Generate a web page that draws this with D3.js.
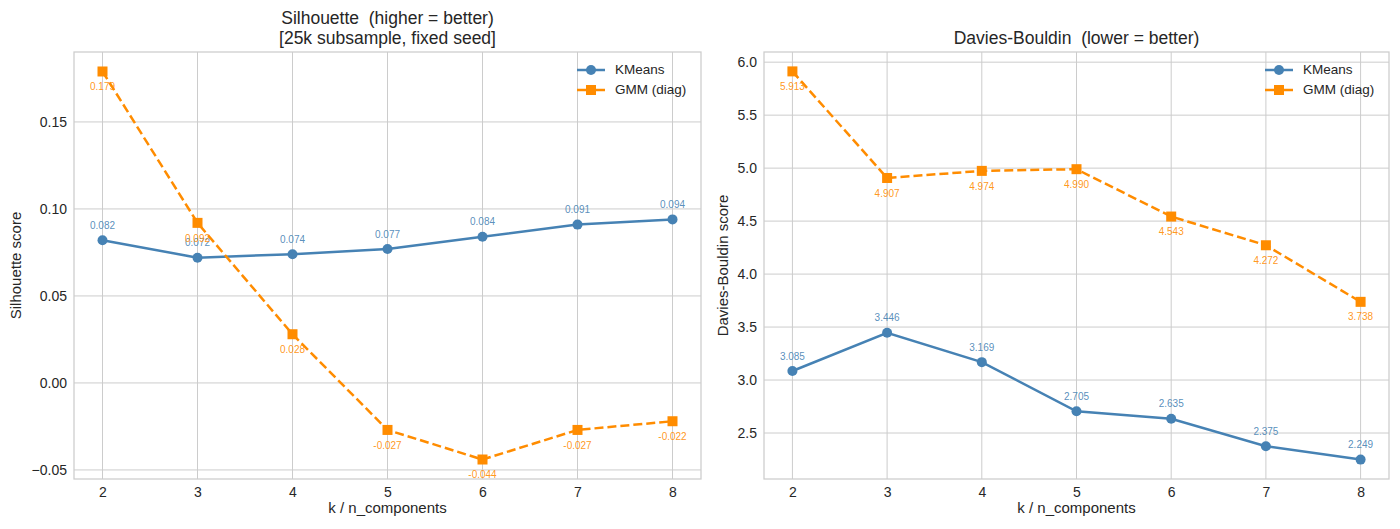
<!DOCTYPE html>
<html>
<head>
<meta charset="utf-8">
<script src="https://cdn.jsdelivr.net/npm/d3@7"></script>
<style>
  html, body { margin: 0; padding: 0; background: #fff; }
  svg { display: block; }
</style>
</head>
<body>
<svg id="chart"></svg>
<script>
/* ── Data ── */
const K_VALUES      = [2, 3, 4, 5, 6, 7, 8];
const SIL_KMEANS    = [0.082, 0.072, 0.074, 0.077, 0.084, 0.091, 0.094];
const SIL_GMM       = [0.179, 0.092, 0.028, -0.027, -0.044, -0.027, -0.022];
const DB_KMEANS     = [3.085, 3.446, 3.169, 2.705, 2.635, 2.375, 2.249];
const DB_GMM        = [5.913, 4.907, 4.974, 4.990, 4.543, 4.272, 3.738];
const SIL_TICKS     = [-0.05, 0.00, 0.05, 0.10, 0.15];
const DB_TICKS      = [2.5, 3.0, 3.5, 4.0, 4.5, 5.0, 5.5, 6.0];
const SERIES_NAMES  = ['KMeans', 'GMM (diag)'];

const BLUE   = '#4682B4';
const ORANGE = '#FF8C00';
const GRID   = '#cccccc';
const TEXT   = '#262626';
const FONT   = '"Liberation Sans", Arial, Helvetica, sans-serif';

const W = 1400, H = 529;
const svg = d3.select('#chart').attr('width', W).attr('height', H)
  .attr('viewBox', `0 0 ${W} ${H}`);
svg.append('rect').attr('width', W).attr('height', H).attr('fill', '#fff');

function drawPanel({ x0, x1, y0, y1, yDomain, yTicks, yFmt, kmeans, gmm,
                     title, yLabel, yLabelX }) {
  const x = d3.scaleLinear().domain([1.7, 8.3]).range([x0, x1]);
  const y = d3.scaleLinear().domain(yDomain).range([y1, y0]);
  const g = svg.append('g');

  // grid
  g.selectAll('.vgrid').data(K_VALUES).join('line')
    .attr('x1', d => x(d)).attr('x2', d => x(d))
    .attr('y1', y0).attr('y2', y1)
    .attr('stroke', GRID).attr('stroke-width', 1);
  g.selectAll('.hgrid').data(yTicks).join('line')
    .attr('x1', x0).attr('x2', x1)
    .attr('y1', d => y(d)).attr('y2', d => y(d))
    .attr('stroke', GRID).attr('stroke-width', 1);

  // frame
  g.append('rect').attr('x', x0).attr('y', y0)
    .attr('width', x1 - x0).attr('height', y1 - y0)
    .attr('fill', 'none').attr('stroke', GRID).attr('stroke-width', 1.25);

  // axes (no tick marks, labels only)
  const xAxis = g.append('g').attr('transform', `translate(0,${y1})`)
    .call(d3.axisBottom(x).tickValues(K_VALUES).tickFormat(d3.format('d'))
      .tickSize(0).tickPadding(8));
  const yAxis = g.append('g').attr('transform', `translate(${x0},0)`)
    .call(d3.axisLeft(y).tickValues(yTicks).tickFormat(yFmt)
      .tickSize(0).tickPadding(7));
  [xAxis, yAxis].forEach(ax => {
    ax.select('.domain').remove();
    ax.selectAll('.tick text')
      .attr('fill', TEXT).attr('font-size', 14).attr('font-family', FONT);
  });

  // lines
  const line = d3.line().x((d, i) => x(K_VALUES[i])).y(d => y(d));
  g.append('path').datum(kmeans).attr('d', line)
    .attr('fill', 'none').attr('stroke', BLUE).attr('stroke-width', 2.5);
  g.append('path').datum(gmm).attr('d', line)
    .attr('fill', 'none').attr('stroke', ORANGE).attr('stroke-width', 2.5)
    .attr('stroke-dasharray', '9,4');

  // markers
  g.selectAll('.km-dot').data(kmeans).join('circle')
    .attr('cx', (d, i) => x(K_VALUES[i])).attr('cy', d => y(d))
    .attr('r', 5).attr('fill', BLUE);
  g.selectAll('.gmm-sq').data(gmm).join('rect')
    .attr('x', (d, i) => x(K_VALUES[i]) - 5).attr('y', d => y(d) - 5)
    .attr('width', 10).attr('height', 10).attr('fill', ORANGE);

  // value labels
  g.selectAll('.km-lbl').data(kmeans).join('text')
    .attr('x', (d, i) => x(K_VALUES[i])).attr('y', d => y(d) - 14)
    .attr('text-anchor', 'middle').attr('dominant-baseline', 'middle')
    .attr('fill', BLUE).attr('fill-opacity', 0.9)
    .attr('font-size', 10).attr('font-family', FONT)
    .text(d => d.toFixed(3));
  g.selectAll('.gmm-lbl').data(gmm).join('text')
    .attr('x', (d, i) => x(K_VALUES[i])).attr('y', d => y(d) + 16)
    .attr('text-anchor', 'middle').attr('dominant-baseline', 'middle')
    .attr('fill', ORANGE).attr('fill-opacity', 0.9)
    .attr('font-size', 10).attr('font-family', FONT)
    .text(d => d.toFixed(3));

  // title
  const t = g.append('text').attr('x', (x0 + x1) / 2)
    .attr('text-anchor', 'middle').attr('fill', TEXT)
    .attr('font-size', 17.5).attr('font-family', FONT);
  title.forEach((s, i, arr) => {
    t.append('tspan').attr('x', (x0 + x1) / 2)
      .attr('y', 44 - (arr.length - 1 - i) * 20)
      .attr('xml:space', 'preserve').text(s);
  });

  // axis labels
  g.append('text').attr('x', (x0 + x1) / 2).attr('y', 513)
    .attr('text-anchor', 'middle').attr('fill', TEXT)
    .attr('font-size', 15).attr('font-family', FONT).text('k / n_components');
  g.append('text')
    .attr('transform', `translate(${yLabelX},${(y0 + y1) / 2}) rotate(-90)`)
    .attr('text-anchor', 'middle').attr('fill', TEXT)
    .attr('font-size', 15).attr('font-family', FONT).text(yLabel);

  // legend
  const lg = g.append('g');
  const entries = [
    { name: SERIES_NAMES[0], color: BLUE, dash: null, shape: 'circle' },
    { name: SERIES_NAMES[1], color: ORANGE, dash: '9,4', shape: 'square' },
  ];
  entries.forEach((e, i) => {
    const ly = 70 + i * 20;
    const hx0 = x1 - 124, hx1 = x1 - 96, hm = (hx0 + hx1) / 2;
    lg.append('line').attr('x1', hx0).attr('x2', hx1).attr('y1', ly).attr('y2', ly)
      .attr('stroke', e.color).attr('stroke-width', 2.5);
    if (e.shape === 'circle') {
      lg.append('circle').attr('cx', hm).attr('cy', ly).attr('r', 5).attr('fill', e.color);
    } else {
      lg.append('rect').attr('x', hm - 5).attr('y', ly - 5)
        .attr('width', 10).attr('height', 10).attr('fill', e.color);
    }
    lg.append('text').attr('x', x1 - 86).attr('y', ly)
      .attr('dominant-baseline', 'middle').attr('fill', TEXT)
      .attr('font-size', 13.5).attr('font-family', FONT).text(e.name);
  });
}

drawPanel({
  x0: 74, x1: 701, y0: 52, y1: 479,
  yDomain: [-0.0552, 0.1902], yTicks: SIL_TICKS, yFmt: d3.format('.2f'),
  kmeans: SIL_KMEANS, gmm: SIL_GMM,
  title: ['Silhouette  (higher = better)', '[25k subsample, fixed seed]'],
  yLabel: 'Silhouette score', yLabelX: 21,
});

drawPanel({
  x0: 764, x1: 1389, y0: 52, y1: 479,
  yDomain: [2.066, 6.096], yTicks: DB_TICKS, yFmt: d3.format('.1f'),
  kmeans: DB_KMEANS, gmm: DB_GMM,
  title: ['Davies-Bouldin  (lower = better)'],
  yLabel: 'Davies-Bouldin score', yLabelX: 728,
});
</script>
</body>
</html>
